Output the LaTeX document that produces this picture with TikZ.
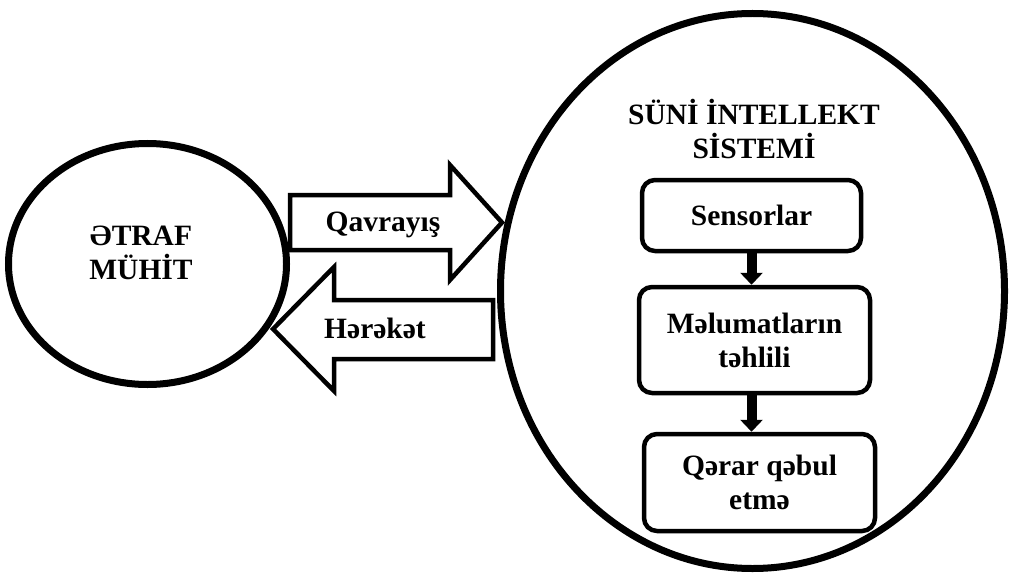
\documentclass[tikz,border=0pt]{standalone}
\usepackage{fontspec}
\setmainfont{Liberation Serif}
\usetikzlibrary{shapes.geometric,arrows.meta}
\begin{document}
\begin{tikzpicture}[x=1pt,y=-1pt,
  txt/.style={font=\bfseries\fontsize{29.5}{34}\selectfont, align=center, inner sep=0pt},
  bigell/.style={draw, ellipse, line width=7pt, inner sep=0pt},
  blockarrow/.style={draw, line width=4.5pt, fill=white, line join=miter},
  stepbox/.style={draw, rounded corners=13pt, line width=4.5pt, inner sep=0pt, txt},
  flow/.style={line width=10pt, -{Triangle[width=22pt,length=12pt]}}]
\useasboundingbox (0,0) rectangle (1014,575);
% environment and system
\node[bigell, minimum width=278pt, minimum height=241pt] (env) at (147.5,264) {};
\node[txt] (envt) at (141,253) {ƏTRAF\\MÜHİT};
\node[bigell, minimum width=504pt, minimum height=555pt] (sys) at (752.5,291) {};
\node[txt] (syst) at (754,129.5) {SÜNİ İNTELLEKT\\SİSTEMİ};
% block arrows
\draw[blockarrow] (290,195) -- (450,195) -- (450,165) -- (502,222.5) -- (450,280) -- (450,250) -- (290,250) -- cycle;
\node[txt, anchor=base] (perc) at (383,231) {Qavrayış};
\draw[blockarrow] (493,300) -- (334,300) -- (334,267) -- (273,329) -- (334,391) -- (334,359) -- (493,359) -- cycle;
\node[txt, anchor=base] (act) at (375,338) {Hərəkət};
% steps
\node[stepbox, minimum width=219pt, minimum height=71pt] (b1) at (751.5,215.5) {Sensorlar};
\node[stepbox, minimum width=231pt, minimum height=106pt] (b2) at (754.5,340) {Məlumatların\\təhlili};
\node[stepbox, minimum width=231pt, minimum height=97pt] (b3) at (759.5,482.5) {Qərar qəbul\\etmə};
\draw[flow] (b1.south) -- (b1.south |- b2.north);
\draw[flow] (b1.south |- b2.south) -- (b1.south |- b3.north);
\end{tikzpicture}
\end{document}
